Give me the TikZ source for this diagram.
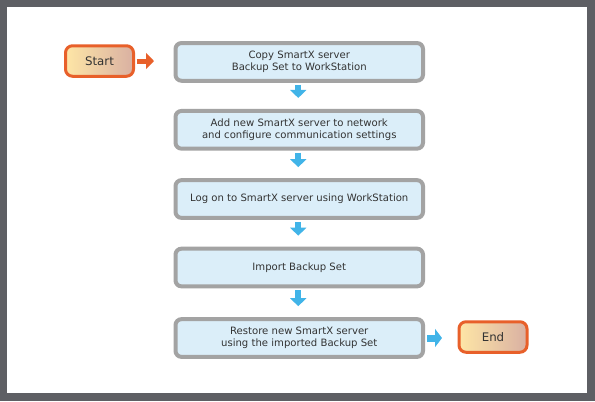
\documentclass[tikz,border=0pt]{standalone}
\usepackage{fontspec}
\setmainfont{DejaVu Sans}
\usetikzlibrary{arrows.meta}
\definecolor{framegray}{HTML}{5E5F64}
\definecolor{boxgray}{HTML}{A3A3A3}
\definecolor{boxblue}{HTML}{DBEEF9}
\definecolor{arrblue}{HTML}{41B4E8}
\definecolor{orng}{HTML}{E8602A}
\definecolor{termL}{HTML}{FEE6A6}
\definecolor{termR}{HTML}{D9B0A2}
\definecolor{txtgray}{HTML}{333333}
\tikzset{
  stepbox/.style={rectangle, rounded corners=6bp, draw=boxgray, line width=4bp,
    fill=boxblue, minimum width=247.5bp, minimum height=37.7bp, inner sep=0pt,
    align=center, text=txtgray, font=\fontsize{10.1bp}{12bp}\selectfont},
  termbox/.style={rectangle, rounded corners=7bp, draw=orng, line width=3bp,
    left color=termL, right color=termR, minimum width=68bp, minimum height=30.5bp,
    inner sep=0pt, text=txtgray, font=\fontsize{11.8bp}{14bp}\selectfont},
  barrow/.style={draw=arrblue, line width=6bp, -{Triangle[length=8bp,width=16bp]}},
  harrow/.style={draw=arrblue, line width=7bp, -{Triangle[length=7bp,width=18bp]}},
  oarrow/.style={draw=orng, line width=5bp, -{Triangle[length=8bp,width=16bp]}},
}
\begin{document}
\begin{tikzpicture}[x=1bp,y=-1bp]
\useasboundingbox (0,0) rectangle (595,401);
\fill[framegray] (0,0) rectangle (595,401);
\fill[white] (7,7) rectangle (587,393);
\node[stepbox] (b1) at (299.25,61.9) {Copy SmartX server\\Backup Set to WorkStation};
\node[stepbox] (b2) at (299.25,129.8) {Add new SmartX server to network\\and configure communication settings};
\node[stepbox] (b3) at (299.25,199) {Log on to SmartX server using WorkStation};
\node[stepbox] (b4) at (299.25,267.5) {Import Backup Set};
\node[stepbox] (b5) at (299.25,338) {Restore new SmartX server\\using the imported Backup Set};
\node[termbox] (start) at (99.5,61) {Start};
\node[termbox] (end) at (493,337) {End};
\draw[oarrow, shorten <=1.5bp, shorten >=19.5bp] (start.east) -- (start.east -| b1.west);
\foreach \a/\b in {b1/b2,b2/b3,b3/b4,b4/b5}{
  \draw[barrow, shorten <=2bp, shorten >=11bp] ([xshift=-1bp]\a.south) -- ([xshift=-1bp]\b.north);
}
\draw[harrow, shorten <=2bp, shorten >=15.5bp] (b5.east) -- (b5.east -| end.west);
\end{tikzpicture}
\end{document}
